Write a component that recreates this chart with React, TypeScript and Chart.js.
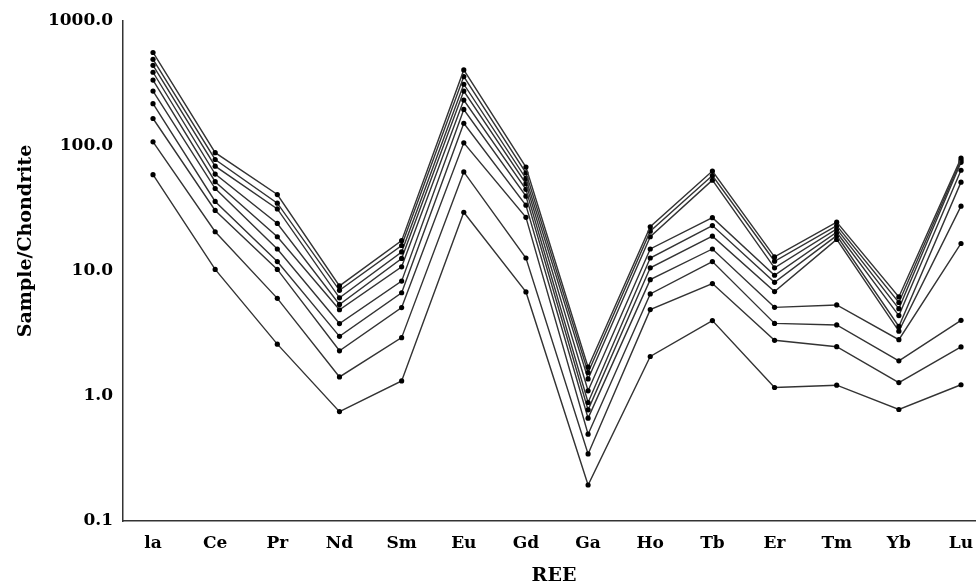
import React, { useEffect, useRef } from "react";
import { Chart, registerables } from "chart.js";

Chart.register(...registerables);

const categories = ["la", "Ce", "Pr", "Nd", "Sm", "Eu", "Gd", "Ga", "Ho", "Tb", "Er", "Tm", "Yb", "Lu"];
const yTicks = [0.1, 1, 10, 100, 1000];
const xTitle = "REE";
const yTitle = "Sample/Chondrite";

const s1 = [560, 88.4, 40.9, 7.6, 17.5, 406, 67.8, 1.70, 22.6, 63.0, 12.97, 24.6, 6.2, 80];
const s2 = [494, 78, 34.9, 7.0, 16.0, 359, 61.0, 1.54, 20.8, 58.1, 11.97, 23.1, 5.6, 77];
const s3 = [442, 69, 31.4, 6.1, 14.2, 312, 55.0, 1.37, 18.8, 53.3, 10.6, 21.7, 5.0, 74];
const s4 = [389, 59.6, 24.0, 5.4, 12.6, 275, 50.0, 1.10, 15.0, 26.7, 9.25, 20.4, 4.4, 64];
const s5 = [337, 51.8, 18.8, 4.9, 10.8, 233, 45.0, 0.887, 12.7, 23.1, 8.12, 19.2, 3.6, 51.4];
const s6 = [275, 45.7, 15.0, 3.8, 8.3, 196, 39.7, 0.775, 10.6, 19.0, 6.84, 17.9, 3.3, 33];
const s7 = [218, 36.0, 11.9, 3.0, 6.7, 152, 33.6, 0.665, 8.53, 15.0, 5.12, 5.35, 2.82, 16.6];
const s8 = [166, 30.5, 10.3, 2.3, 5.1, 106, 26.9, 0.495, 6.56, 11.9, 3.81, 3.70, 1.91, 4.03];
const s9 = [108, 20.6, 6.04, 1.42, 2.93, 62, 12.7, 0.344, 4.91, 7.93, 2.79, 2.48, 1.28, 2.47];
const s10 = [59, 10.3, 2.6, 0.75, 1.32, 29.5, 6.8, 0.194, 2.07, 4.01, 1.17, 1.22, 0.78, 1.23];

const series = [s1, s2, s3, s4, s5, s6, s7, s8, s9, s10];

const FONT = "'DejaVu Serif', 'Liberation Serif', serif";

const titlePlugin = {
  id: "axisTitlesCustom",
  afterDraw(chart: any) {
    const ctx = chart.ctx;
    const area = chart.chartArea;
    ctx.save();
    ctx.fillStyle = "#000";
    ctx.font = `bold 19px ${FONT}`;
    ctx.textAlign = "center";
    ctx.textBaseline = "middle";
    ctx.fillText(xTitle, 554, 576);
    ctx.translate(26, area.top + (area.bottom - area.top) * 0.44);
    ctx.rotate(-Math.PI / 2);
    ctx.fillText(yTitle, 0, 0);
    ctx.restore();
  },
};

export default function App() {
  const ref = useRef<HTMLCanvasElement>(null);
  useEffect(() => {
    document.body.style.margin = "0";
    const canvas = ref.current!;
    const chart = new Chart(canvas, {
      type: "line",
      data: {
        datasets: series.map((s, k) => ({
          label: "S" + (k + 1),
          data: s.map((v, i) => ({ x: i, y: v })),
          borderColor: "#333",
          borderWidth: 1.4,
          pointRadius: 2.6,
          pointBackgroundColor: "#000",
          pointBorderColor: "#000",
          pointBorderWidth: 0,
          tension: 0,
        })),
      },
      options: {
        responsive: false,
        animation: false,
        layout: { padding: { top: 21, right: 2, left: 0, bottom: 0 } },
        plugins: { legend: { display: false }, tooltip: { enabled: false } },
        scales: {
          x: {
            type: "linear",
            min: -0.483,
            max: 13.225,
            grid: { display: false, drawTicks: false },
            border: { display: true, color: "#333", width: 1.5 },
            afterBuildTicks: (scale: any) => {
              scale.ticks = categories.map((_, i) => ({ value: i }));
            },
            afterFit: (scale: any) => {
              scale.height = 65;
              scale.paddingLeft = 0;
              scale.paddingRight = 0;
            },
            ticks: {
              autoSkip: false,
              maxRotation: 0,
              padding: 12,
              color: "#000",
              font: { family: FONT, weight: "bold", size: 17 },
              callback: (v: any) => categories[Math.round(Number(v))] ?? "",
            },
          },
          y: {
            type: "logarithmic",
            min: 0.1,
            max: 1000,
            grid: { display: false, drawTicks: false },
            border: { display: true, color: "#333", width: 1.5 },
            afterBuildTicks: (scale: any) => {
              scale.ticks = yTicks.map((v) => ({ value: v }));
            },
            afterFit: (scale: any) => {
              scale.width = 123;
              scale.paddingTop = 0;
              scale.paddingBottom = 0;
            },
            ticks: {
              padding: 10,
              color: "#000",
              font: { family: FONT, weight: "bold", size: 17 },
              callback: (v: any) => Number(v).toFixed(1),
            },
          },
        },
      },
      plugins: [titlePlugin],
    });
    return () => chart.destroy();
  }, []);
  return <canvas ref={ref} width={979} height={586} style={{ display: "block" }} />;
}
